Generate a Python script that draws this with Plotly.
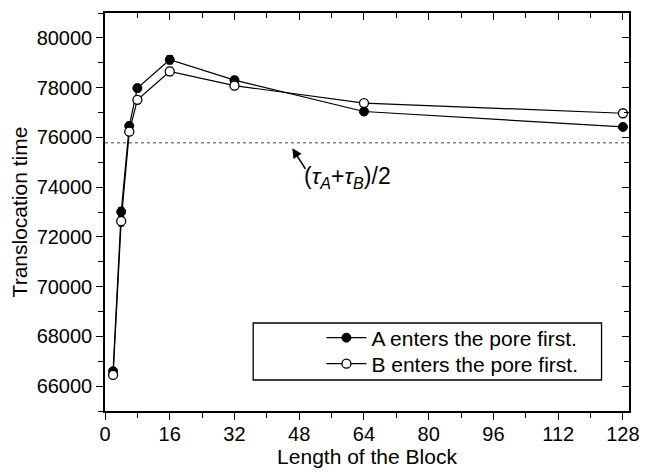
import plotly.graph_objects as go

block_length = [2, 4, 6, 8, 16, 32, 64, 128]
a_first = [66600, 73010, 76460, 77980, 79120, 78300, 77040, 76420]
a_err = [150, 180, 150, 150, 170, 150, 140, 130]
b_first = [66450, 72630, 76230, 77510, 78650, 78080, 77380, 76970]
b_err = [150, 200, 150, 150, 170, 150, 140, 130]
tau_mean = 75780

x_range = [0, 129.5]
y_range = [65000, 81000]
x_major = list(range(0, 129, 16))
x_minor = list(range(8, 129, 16))
y_major = list(range(66000, 80001, 2000))
y_minor = list(range(65000, 81001, 2000))

FONT = "Liberation Sans, Arial, Helvetica, sans-serif"

fig = go.Figure()
fig.add_trace(go.Scatter(
    x=block_length, y=a_first, mode="lines+markers",
    name="A enters the pore first.", legend="legend",
    line=dict(color="black", width=1.2),
    marker=dict(symbol="circle", size=9, color="black", line=dict(color="black", width=1)),
    error_y=dict(type="data", array=a_err, color="black", thickness=1, width=3),
))
fig.add_trace(go.Scatter(
    x=block_length, y=b_first, mode="lines+markers",
    name="B enters the pore first.", legend="legend2",
    line=dict(color="black", width=1.2),
    marker=dict(symbol="circle", size=9, color="white", line=dict(color="black", width=1.3)),
    error_y=dict(type="data", array=b_err, color="black", thickness=1, width=3),
))
# invisible trace to anchor the mirrored top/right axes
fig.add_trace(go.Scatter(x=x_range, y=y_range, xaxis="x2", yaxis="y2",
                         mode="markers", marker=dict(opacity=0), showlegend=False,
                         hoverinfo="skip"))

fig.add_shape(type="line", x0=x_range[0], x1=x_range[1], y0=tau_mean, y1=tau_mean,
              xref="x", yref="y", line=dict(color="#444444", width=1, dash="dot"))

# legend frame
fig.add_shape(type="rect", xref="paper", yref="paper",
              x0=0.2828, x1=0.9476, y0=0.0779, y1=0.2211,
              line=dict(color="black", width=1.3), fillcolor="rgba(0,0,0,0)")

fig.add_annotation(x=46.3, y=75560, ax=14, ay=22, xref="x", yref="y",
                   showarrow=True, arrowhead=2, arrowsize=1.2, arrowwidth=1.6,
                   arrowcolor="black", text="")
fig.add_annotation(x=48.8, y=74400, xref="x", yref="y", showarrow=False,
                   xanchor="left", yanchor="middle",
                   text="(<i>τ</i><sub><i>A</i></sub>+<i>τ</i><sub><i>B</i></sub>)/2",
                   font=dict(family=FONT, size=23, color="black"))

axis_common = dict(showgrid=False, zeroline=False, showline=True, linecolor="black",
                   linewidth=1.5, tickcolor="black", tickwidth=1.2,
                   tickfont=dict(family=FONT, size=20, color="black"))

legend_common = dict(xanchor="left", yanchor="middle", borderwidth=0,
                     bgcolor="rgba(0,0,0,0)",
                     font=dict(family=FONT, size=21, color="black"), itemwidth=40)

fig.update_layout(
    width=650, height=473,
    margin=dict(l=105, r=11, t=13, b=62),
    paper_bgcolor="white", plot_bgcolor="white",
    font=dict(family=FONT, color="black"),
    xaxis=dict(range=x_range, tickmode="array", tickvals=x_major,
               ticks="outside", ticklen=7, ticklabelstandoff=-3,
               minor=dict(tickvals=x_minor, ticks="outside", ticklen=5,
                          tickcolor="black", tickwidth=1.2),
               title=dict(text="Length of the Block", font=dict(family=FONT, size=21),
                          standoff=2),
               **axis_common),
    yaxis=dict(range=y_range, tickmode="array", tickvals=y_major, tickformat="d",
               ticks="outside", ticklen=7,
               minor=dict(tickvals=y_minor, ticks="outside", ticklen=5,
                          tickcolor="black", tickwidth=1.2),
               title=dict(text="Translocation time", font=dict(family=FONT, size=21),
                          standoff=3),
               **axis_common),
    xaxis2=dict(range=x_range, overlaying="x", side="top", anchor="y",
                tickmode="array", tickvals=x_major, ticks="inside", ticklen=7,
                showticklabels=False,
                minor=dict(tickvals=x_minor, ticks="inside", ticklen=5,
                           tickcolor="black", tickwidth=1.2),
                **axis_common),
    yaxis2=dict(range=y_range, overlaying="y", side="right", anchor="x",
                tickmode="array", tickvals=y_major, ticks="inside",
                ticklen=7, showticklabels=False,
                minor=dict(tickvals=y_minor, ticks="inside", ticklen=5,
                           tickcolor="black", tickwidth=1.2),
                **axis_common),
    legend=dict(x=0.413, y=0.1834, **legend_common),
    legend2=dict(x=0.413, y=0.118, **legend_common),
    showlegend=True,
)

fig.write_html("out.html")
